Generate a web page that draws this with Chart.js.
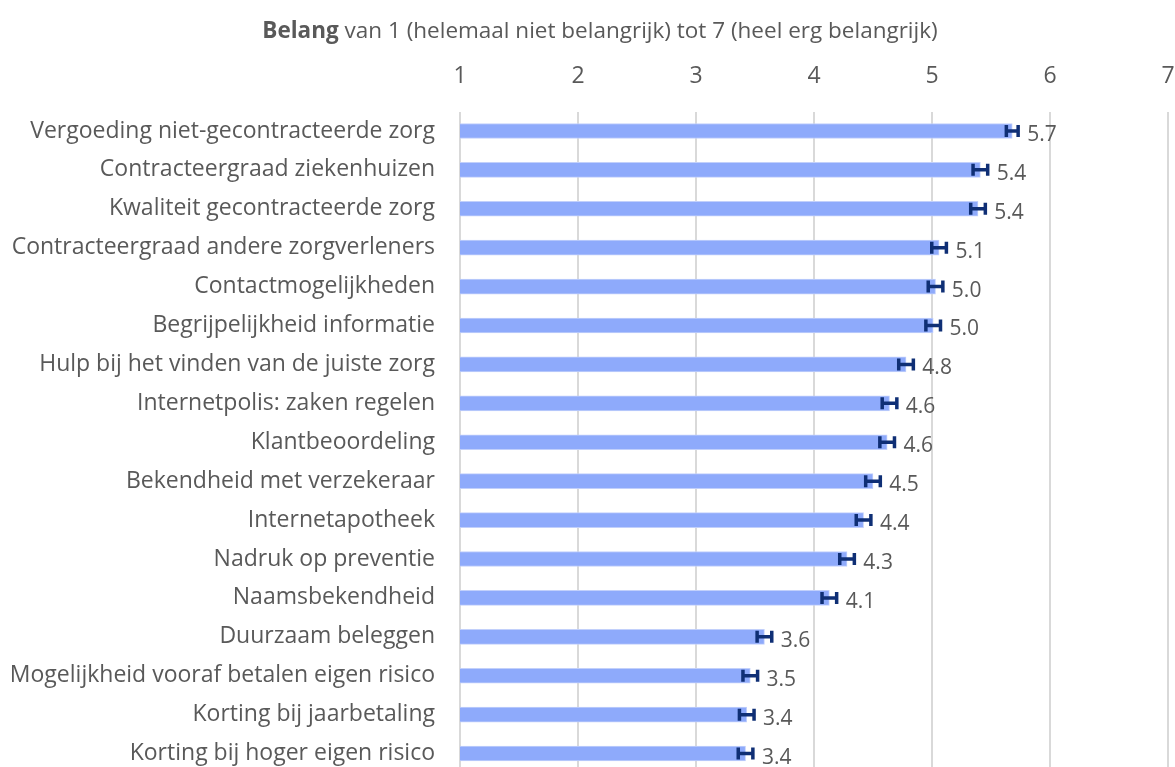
<!DOCTYPE html>
<html>
<head>
<meta charset="utf-8">
<script src="https://cdn.jsdelivr.net/npm/chart.js@4"></script>
<style>
body{margin:0;background:#fff;overflow:hidden;}
#wrap{position:relative;width:1175px;height:767px;overflow:hidden;}
#title{position:absolute;top:14px;left:0;width:1200px;text-align:center;font-family:"Open Sans",sans-serif;font-size:22.5px;color:#595959;z-index:2;}
canvas{position:absolute;top:0;left:0;}
</style>
</head>
<body>
<div id="wrap">
<div id="title"><b>Belang</b> van 1 (helemaal niet belangrijk) tot 7 (heel erg belangrijk)</div>
<canvas id="chart" width="1175" height="775"></canvas>
</div>
<script>
const categories = [
"Vergoeding niet-gecontracteerde zorg",
"Contracteergraad ziekenhuizen",
"Kwaliteit gecontracteerde zorg",
"Contracteergraad andere zorgverleners",
"Contactmogelijkheden",
"Begrijpelijkheid informatie",
"Hulp bij het vinden van de juiste zorg",
"Internetpolis: zaken regelen",
"Klantbeoordeling",
"Bekendheid met verzekeraar",
"Internetapotheek",
"Nadruk op preventie",
"Naamsbekendheid",
"Duurzaam beleggen",
"Mogelijkheid vooraf betalen eigen risico",
"Korting bij jaarbetaling",
"Korting bij hoger eigen risico"
];
const means = [5.68, 5.41, 5.39, 5.06, 5.03, 5.01, 4.78, 4.64, 4.62, 4.50, 4.42, 4.28, 4.13, 3.58, 3.46, 3.43, 3.42];
const errors = [0.05, 0.062, 0.062, 0.062, 0.062, 0.062, 0.062, 0.062, 0.062, 0.062, 0.062, 0.062, 0.062, 0.062, 0.062, 0.062, 0.062];
const tickValues = [1, 2, 3, 4, 5, 6, 7];

const textColor = "#595959";
const fontName = "'Open Sans', sans-serif";

// error bars + value labels
const errorBarPlugin = {
id: "errorBars",
afterDatasetsDraw(chart){
const ctx = chart.ctx;
const x = chart.scales.x;
const meta = chart.getDatasetMeta(0);
ctx.save();
meta.data.forEach((bar, i) => {
let y = bar.y;
let lo = x.getPixelForValue(means[i] - errors[i]);
let hi = x.getPixelForValue(means[i] + errors[i]);
ctx.strokeStyle = "#0f2f75";
ctx.lineWidth = 3.5;
ctx.beginPath();
ctx.moveTo(lo, y); ctx.lineTo(hi, y);
ctx.moveTo(lo, y - 6); ctx.lineTo(lo, y + 6);
ctx.moveTo(hi, y - 6); ctx.lineTo(hi, y + 6);
ctx.stroke();
ctx.fillStyle = textColor;
ctx.font = "21px " + fontName;
ctx.textAlign = "left";
ctx.textBaseline = "middle";
ctx.fillText(means[i].toFixed(1), hi + 9, y + 4);
});
ctx.restore();
}
};

new Chart(document.getElementById("chart"), {
type: "bar",
data: {
labels: categories,
datasets: [{
data: means,
backgroundColor: "#8eaafb",
borderColor: "#c2d0fb",
borderWidth: 1,
barThickness: 15
}]
},
options: {
indexAxis: "y",
responsive: false,
devicePixelRatio: 1,
animation: false,
layout: { padding: { top: 0, right: 7, bottom: 2, left: 0 } },
plugins: { legend: { display: false }, tooltip: { enabled: false } },
scales: {
x: {
position: "top",
min: 1,
max: 7,
afterBuildTicks: s => { s.ticks = tickValues.map(v => ({ value: v })); },
afterFit: s => { s.height = 111.5; s.paddingLeft = 0; s.paddingRight = 0; },
grid: { color: "#d9d9d9", lineWidth: 2, drawTicks: false },
border: { display: false },
ticks: { color: textColor, font: { family: fontName, size: 23 }, padding: 21 }
},
y: {
afterFit: s => { s.width = 460; s.paddingTop = 0; s.paddingBottom = 0; },
grid: { display: false, drawTicks: false },
border: { display: false },
ticks: { color: textColor, font: { family: fontName, size: 23 }, padding: 25, autoSkip: false }
}
}
},
plugins: [errorBarPlugin]
});
</script>
</body>
</html>
